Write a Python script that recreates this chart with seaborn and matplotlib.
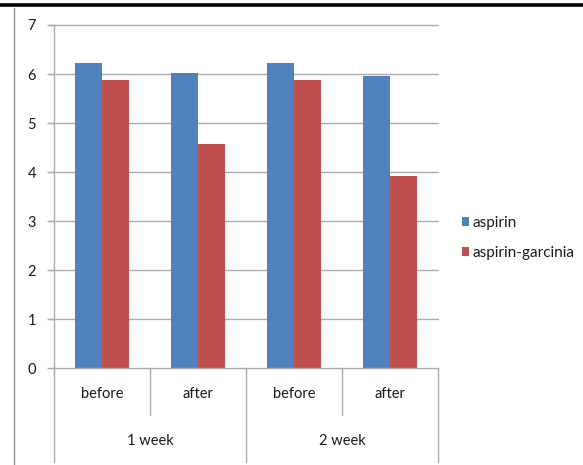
import matplotlib
matplotlib.use("Agg")
import matplotlib.pyplot as plt
from matplotlib.lines import Line2D
from matplotlib.patches import Patch
import seaborn as sns
import pandas as pd

# Data
weeks = ["1 week", "1 week", "2 week", "2 week"]
phases = ["before", "after", "before", "after"]
aspirin = [6.22, 6.02, 6.22, 5.95]
aspirin_garcinia = [5.87, 4.58, 5.87, 3.91]
series_names = ["aspirin", "aspirin-garcinia"]
colors = ["#4F81BD", "#C0504D"]

slots = [f"{w} {p}" for w, p in zip(weeks, phases)]
df = pd.DataFrame({
    "slot": slots * 2,
    "value": aspirin + aspirin_garcinia,
    "series": [series_names[0]] * 4 + [series_names[1]] * 4,
})

sns.set_theme(style="white")
plt.rcParams["font.family"] = ["Lato", "DejaVu Sans"]

W, H = 583, 465
fig = plt.figure(figsize=(W / 100, H / 100), dpi=100)
ax = fig.add_axes([54 / W, (H - 368) / H, (438 - 54) / W, (368 - 25) / H])

sns.barplot(data=df, x="slot", y="value", hue="series", order=slots,
            palette=colors, width=0.565, saturation=1, ax=ax,
            edgecolor="none", linewidth=0, legend=False)

grid_c = "#ababab"
txt_c = "#1a1a1a"
fs = 10.5
ax.set_ylim(0, 7)
ax.set_xlim(-0.5, 3.5)
ax.set_yticks(range(0, 8))
ax.set_yticklabels([str(i) for i in range(0, 8)], fontsize=fs, color=txt_c)
ax.set_xticks([])
ax.set_xlabel("")
ax.set_ylabel("")
for y in range(1, 8):
    ax.plot([-0.5 - 5 / 96, 3.5], [y, y], color=grid_c, lw=1.0,
            clip_on=False, zorder=0.5)
ax.tick_params(axis="y", length=5, width=1.0, color=grid_c, pad=8, left=True)
for s in ["top", "right"]:
    ax.spines[s].set_visible(False)
for s in ["left", "bottom"]:
    ax.spines[s].set_color(grid_c)
    ax.spines[s].set_linewidth(1.0)

# Two-level category axis
unit = 49.0  # pixels per y unit
for x in [0.5, 2.5]:
    ax.plot([x, x], [0, -47 / unit], color=grid_c, lw=1.0, clip_on=False)
for x in [-0.5, 1.5, 3.5]:
    ax.plot([x, x], [0, -94 / unit], color=grid_c, lw=1.0, clip_on=False)
for i, p in enumerate(phases):
    ax.text(i, -26 / unit, p, ha="center", va="center", fontsize=fs,
            color=txt_c, clip_on=False)
for i, w in enumerate(["1 week", "2 week"]):
    ax.text(2 * i + 0.5, -73 / unit, w, ha="center", va="center",
            fontsize=fs, color=txt_c, clip_on=False)

handles = [Patch(facecolor=c, edgecolor="none") for c in colors]
ax.legend(handles, series_names, loc="center left",
          bbox_to_anchor=(461.5 / W, 1 - 238 / H), bbox_transform=fig.transFigure,
          frameon=False, fontsize=11, handlelength=0.52, handleheight=0.52,
          handletextpad=0.22, labelspacing=1.09, borderpad=0, borderaxespad=0,
          labelcolor=txt_c)

# Page rules
fig.add_artist(Line2D([0, 1], [1 - 5.5 / H, 1 - 5.5 / H], color="black",
                      lw=2.6, transform=fig.transFigure))
fig.add_artist(Line2D([14 / W, 14 / W], [1 - 8 / H, 0], color="#8c8c8c",
                      lw=1.0, transform=fig.transFigure))

fig.savefig("out.png", dpi=100)
